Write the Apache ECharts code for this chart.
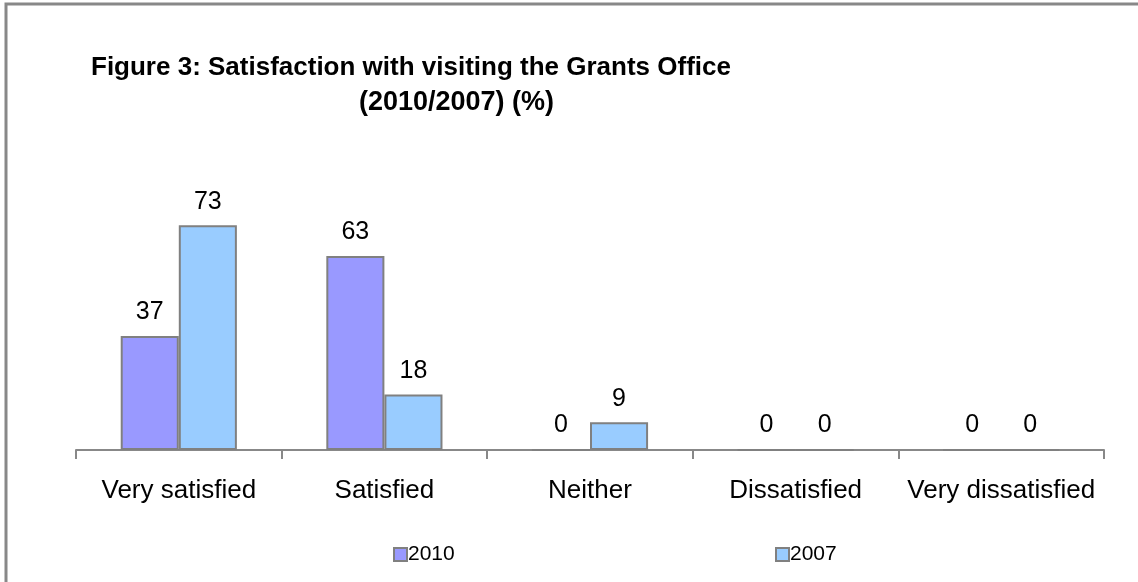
<!DOCTYPE html>
<html>
<head>
<meta charset="utf-8">
<script src="https://cdn.jsdelivr.net/npm/echarts@6/dist/echarts.min.js"></script>
<style>
html,body{margin:0;padding:0;background:#fff;}
#chart{width:1138px;height:582px;}
</style>
</head>
<body>
<div id="chart"></div>
<script>
const categories = ['Very satisfied', 'Satisfied', 'Neither', 'Dissatisfied', 'Very dissatisfied'];
const values2010 = [37, 63, 0, 0, 0];
const values2007 = [73, 18, 9, 0, 0];
const seriesNames = ['2010', '2007'];

const chart = echarts.init(document.getElementById('chart'));
const font = '"Liberation Sans", Arial, sans-serif';
const labelCfg = {show: true, position: 'top', distance: 11, color: '#000', fontSize: 25, fontFamily: font};
chart.setOption({
  animation: false,
  graphic: [{
    type: 'rect', shape: {x: 6, y: 4, width: 1200, height: 700},
    style: {fill: 'none', stroke: '#888', lineWidth: 3}, silent: true
  }],
  title: [
    {text: 'Figure 3: Satisfaction with visiting the Grants Office', left: 86, top: 50,
     textStyle: {fontFamily: font, fontWeight: 'bold', fontSize: 26, color: '#000'}},
    {text: '(2010/2007) (%)', left: 354, top: 84,
     textStyle: {fontFamily: font, fontWeight: 'bold', fontSize: 27, color: '#000'}}
  ],
  legend: [
    {data: [seriesNames[0]], left: 388, top: 539, itemWidth: 13, itemHeight: 13, itemGap: 4,
     icon: 'rect', textStyle: {fontFamily: font, fontSize: 21, color: '#000', padding: [0,0,0,-4]}},
    {data: [seriesNames[1]], left: 770, top: 539, itemWidth: 13, itemHeight: 13, itemGap: 4,
     icon: 'rect', textStyle: {fontFamily: font, fontSize: 21, color: '#000', padding: [0,0,0,-4]}}
  ],
  grid: {left: 76, right: 34, top: 142, bottom: 132, containLabel: false},
  xAxis: {
    type: 'category', data: categories,
    axisLine: {lineStyle: {color: '#888', width: 2}},
    axisTick: {show: true, length: 9, lineStyle: {color: '#888', width: 2}},
    axisLabel: {color: '#000', fontSize: 26, fontFamily: font, margin: 28, interval: 0}
  },
  yAxis: {type: 'value', min: 0, max: 100, show: false, splitLine: {show: false}},
  series: [
    {name: seriesNames[0], type: 'bar', data: values2010, barGap: '0%', barCategoryGap: '43.5%',
     itemStyle: {color: '#9999FF', borderColor: '#808080', borderWidth: 2}, label: labelCfg},
    {name: seriesNames[1], type: 'bar', data: values2007, barGap: '0%', barCategoryGap: '43.5%',
     itemStyle: {color: '#99CCFF', borderColor: '#808080', borderWidth: 2}, label: labelCfg}
  ]
});
</script>
</body>
</html>
